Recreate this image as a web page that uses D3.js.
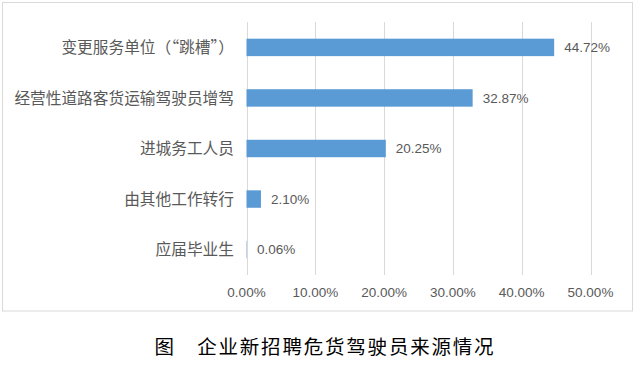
<!DOCTYPE html>
<html>
<head>
<meta charset="utf-8">
<script src="https://cdn.jsdelivr.net/npm/d3@7"></script>
<style>
  body { margin: 0; background: #fff; }
</style>
</head>
<body>
<script>
//chart data
var categories = ["变更服务单位（“跳槽”）", "经营性道路客货运输驾驶员增驾", "进城务工人员", "由其他工作转行", "应届毕业生"];
var values = [44.72, 32.87, 20.25, 2.10, 0.06];
var tickValues = [0, 10, 20, 30, 40, 50];
var title = "图　企业新招聘危货驾驶员来源情况";

window.onload = drawChart();

function drawChart(){

    var width = 638,
        height = 372;

    var svg = d3.select("body")
        .append("svg")
        .attr("width", width)
        .attr("height", height);

    //outer chart border
    svg.append("rect")
        .attr("x", 2.5)
        .attr("y", 2.5)
        .attr("width", 630)
        .attr("height", 308.5)
        .attr("fill", "none")
        .attr("stroke", "#D9D9D9");

    var x = d3.scaleLinear()
        .domain([0, 50])
        .range([246.5, 590.5]);

    var y = d3.scaleBand()
        .domain(categories)
        .range([22, 275])
        .paddingInner(0.655)
        .paddingOuter(0.33);

    var top = 22, bottom = 275;

    //vertical gridlines
    svg.selectAll(".grid")
        .data(tickValues)
        .enter()
        .append("line")
        .attr("class", "grid")
        .attr("x1", function(d){ return Math.round(x(d)) + 0.5; })
        .attr("x2", function(d){ return Math.round(x(d)) + 0.5; })
        .attr("y1", top)
        .attr("y2", bottom)
        .attr("stroke", "#D9D9D9");

    //bars
    svg.selectAll(".bar")
        .data(values)
        .enter()
        .append("rect")
        .attr("class", "bar")
        .attr("x", x(0))
        .attr("y", function(d, i){ return y(categories[i]); })
        .attr("width", function(d){ return x(d) - x(0); })
        .attr("height", y.bandwidth())
        .attr("fill", "#5B9BD5");

    //value labels
    svg.selectAll(".val")
        .data(values)
        .enter()
        .append("text")
        .attr("class", "val")
        .attr("x", function(d){ return x(d) + 10; })
        .attr("y", function(d, i){ return y(categories[i]) + y.bandwidth() / 2; })
        .attr("dy", "0.36em")
        .attr("font-family", "Liberation Sans, Arial, sans-serif")
        .attr("font-size", "13.5px")
        .attr("fill", "#595959")
        .text(function(d){ return d.toFixed(2) + "%"; });

    //category labels
    svg.selectAll(".cat")
        .data(categories)
        .enter()
        .append("text")
        .attr("class", "cat")
        .attr("x", 234)
        .attr("y", function(d){ return y(d) + y.bandwidth() / 2; })
        .attr("dy", "0.36em")
        .attr("text-anchor", "end")
        .attr("font-family", "Noto Sans CJK SC, sans-serif")
        .attr("font-size", "15.7px")
        .attr("fill", "#595959")
        .text(function(d){ return d; });

    //x tick labels
    svg.selectAll(".tick")
        .data(tickValues)
        .enter()
        .append("text")
        .attr("class", "tick")
        .attr("x", function(d){ return x(d); })
        .attr("y", 297)
        .attr("text-anchor", "middle")
        .attr("font-family", "Liberation Sans, Arial, sans-serif")
        .attr("font-size", "13.5px")
        .attr("fill", "#595959")
        .text(function(d){ return d.toFixed(2) + "%"; });

    //figure caption
    svg.append("text")
        .attr("x", 325)
        .attr("y", 354)
        .attr("text-anchor", "middle")
        .attr("font-family", "Noto Sans CJK SC, sans-serif")
        .attr("font-size", "19.5px")
        .attr("letter-spacing", "1.8px")
        .attr("fill", "#000")
        .text(title);
};
</script>
</body>
</html>
